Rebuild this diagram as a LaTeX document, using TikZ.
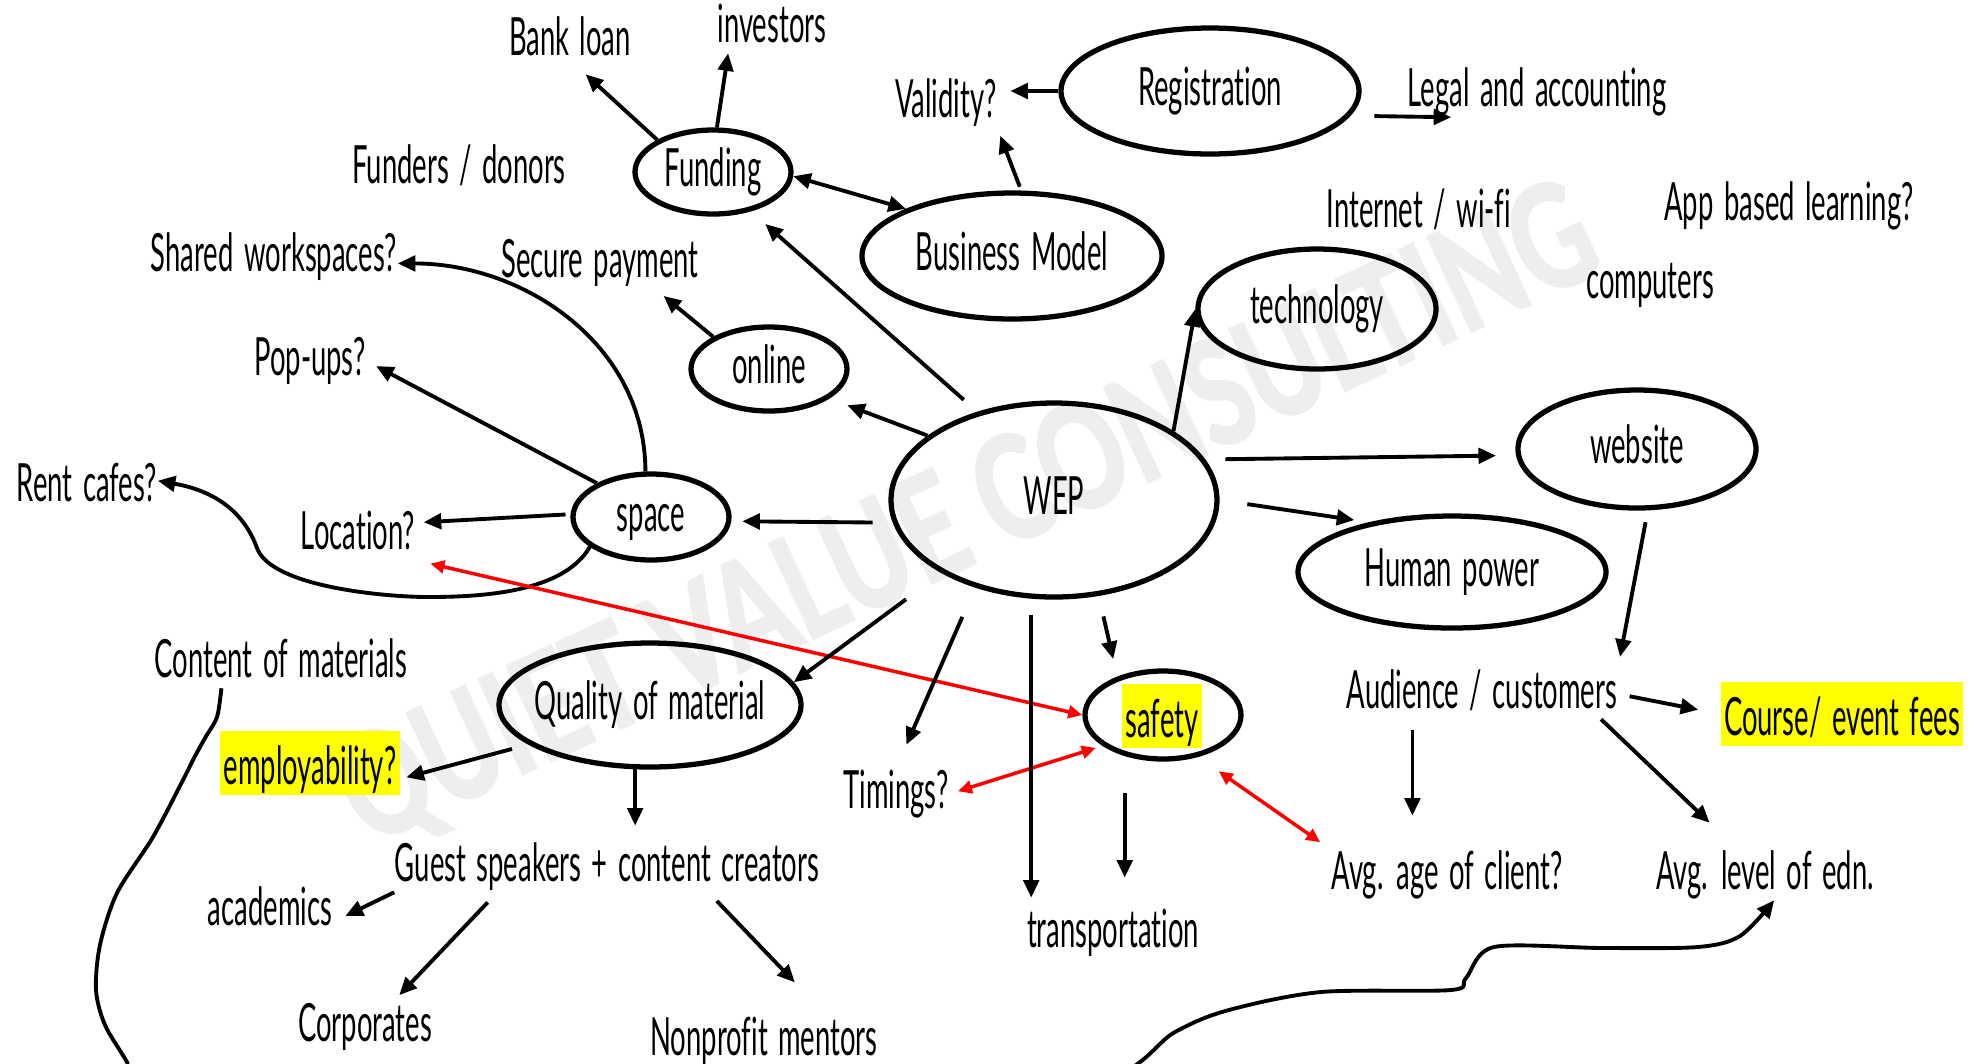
\documentclass[tikz,border=0pt]{standalone}
\usepackage{fontspec}
\setmainfont{Lato}[FakeStretch=0.52,WordSpace=1.5,Ligatures=NoCommon]
\newfontfamily\wmfont{Lato}[FakeStretch=0.73,BoldFeatures={FakeBold=2}]
\usetikzlibrary{shapes.geometric,arrows.meta}
\definecolor{hlyellow}{RGB}{255,255,0}
\definecolor{wmgray}{RGB}{238,238,238}

\begin{document}
\begin{tikzpicture}[x=0.1mm,y=0.1mm]
\tikzstyle{every node}+=[inner sep=0pt,font=\fontsize{15pt}{18pt}\selectfont]
\tikzstyle{txt}=[anchor=base,text height=11pt,text depth=3pt]
\tikzstyle{bub}=[draw,ellipse,line width=1.5pt,inner xsep=-4pt,text height=11pt,text depth=3pt]
\tikzstyle{hl}=[anchor=base,fill=hlyellow,inner xsep=1pt,inner ysep=1pt,text height=14pt,text depth=2pt]
\tikzstyle{arr}=[line width=1.1pt,-{Triangle[length=5pt,width=4.4pt]}]
\tikzstyle{dblarr}=[line width=1.1pt,{Triangle[length=5pt,width=4.4pt]}-{Triangle[length=5pt,width=4.4pt]}]
\tikzstyle{redarr}=[red,line width=1pt,{Triangle[length=4pt,width=3.6pt]}-{Triangle[length=4pt,width=3.6pt]}]
\tikzstyle{wm}=[anchor=center,rotate=25,text=wmgray,font=\wmfont\bfseries\fontsize{41pt}{44pt}\selectfont]
\path[use as bounding box] (0,0) rectangle (1974,-1063);
\clip (0,0) rectangle (1974,-1063);
\fill[white] (0,0) rectangle (1974,-1063);
\node[wm] (mark) at (969,-519) {QUIET VALUE CONSULTING};

\node[bub,minimum width=15.6mm,minimum height=8.4mm] (funding) at (713,-172) {Funding};
\node[bub,minimum width=29.8mm,minimum height=12.6mm] (reg) at (1210,-91) {Registration};
\node[bub,minimum width=30mm,minimum height=12.6mm] (bm) at (1012,-256) {Business Model};
\node[bub,minimum width=23.8mm,minimum height=12mm] (tech) at (1317,-309) {technology};
\node[bub,minimum width=15.6mm,minimum height=8.4mm] (online) at (769,-369) {online};
\node[bub,minimum width=32.6mm,minimum height=19.4mm] (wep) at (1054,-500) {WEP};
\node[bub,minimum width=23.8mm,minimum height=11.8mm] (web) at (1637,-449) {website};
\node[bub,minimum width=15.6mm,minimum height=8.6mm] (space) at (651,-517) {space};
\node[bub,minimum width=30.8mm,minimum height=11.2mm] (human) at (1452,-572) {Human power};
\node[bub,minimum width=30.2mm,minimum height=12.4mm,inner xsep=-9pt] (quality) at (650,-705) {Quality of material};
\node[bub,minimum width=15.6mm,minimum height=8.8mm] (safety) at (1163,-715) {};
\node[hl] (safetytxt) at (1162,-737) {safety};

\node[txt] (bank) at (570,-55) {Bank loan};
\node[txt] (inv) at (772,-42) {investors};
\node[txt] (valid) at (946,-117) {Validity?};
\node[txt] (legal) at (1537,-106) {Legal and accounting};
\node[txt] (funders) at (459,-183) {Funders / donors};
\node[txt] (internet) at (1419,-227) {Internet / wi-fi};
\node[txt] (app) at (1789,-220) {App based learning?};
\node[txt] (shared) at (274,-271) {Shared workspaces?};
\node[txt] (secure) at (600,-277) {Secure payment};
\node[txt] (comp) at (1650,-298) {computers};
\node[txt] (pop) at (310,-375) {Pop-ups?};
\node[txt] (rent) at (87,-501) {Rent cafes?};
\node[txt] (loc) at (358,-549) {Location?};
\node[txt] (content) at (281,-677) {Content of materials};
\node[hl] (employ) at (310,-784) {employability?};
\node[txt] (timings) at (896,-808) {Timings?};
\node[txt] (guest) at (607,-881) {Guest speakers + content creators};
\node[txt] (acad) at (270,-925) {academics};
\node[txt] (transp) at (1113,-947) {transportation};
\node[txt] (corp) at (365,-1041) {Corporates};
\node[txt] (nonprofit) at (764,-1055) {Nonprofit mentors};
\node[txt] (aud) at (1482,-708) {Audience / customers};
\node[hl] (course) at (1842,-735) {Course/ event fees};
\node[txt] (age) at (1447,-889) {Avg. age of client?};
\node[txt] (level) at (1765,-889) {Avg. level of edn.};

\draw[arr,shorten >=1.2mm] (funding.150) -- (bank.-75);
\draw[arr] (funding.85) -- (inv.-150);
\draw[dblarr] (funding.-3) -- (bm.156);
\draw[arr,shorten <=0.4mm,shorten >=0.8mm] (bm.82) -- (valid.south east);
\draw[arr,shorten >=1.3mm] (reg.west) -- (reg.west -| valid.east);
\draw[arr,shorten <=2.4mm,shorten >=0.3mm] (reg.-10) -- (legal.-163);
\draw[arr,shorten <=1.8mm,shorten >=1.9mm] (wep.131) -- (funding.-46);
\draw[arr,shorten >=1.2mm] (online.150) -- (secure.-25);
\draw[arr,shorten >=1.9mm] (wep.153) -- (online.-26);
\draw[arr] (wep.30) -- (tech.west);
\draw[arr,shorten <=2mm,shorten >=2mm] (wep.15) -- (web.-177);
\draw[arr,shorten <=2.8mm,shorten >=1.5mm] (wep.0) -- (human.149);
\draw[arr,shorten <=2mm,shorten >=1.1mm] (wep.-172) -- (space.-3);
\draw[arr,shorten <=0.5mm,shorten >=0.8mm] (space.178) -- (loc.12);
\draw[arr,shorten >=1.1mm] (space.148) -- (pop.east);
\draw[arr] (space.97) to[out=90,in=0] (shared.-3);
\draw[arr] (space.-154) to[out=-120,in=0,looseness=0.8] (428,-597) to[out=180,in=-70,looseness=0.6] (257,-548) to[out=110,in=-10] (rent.5);

\draw[redarr,shorten <=1.5mm] (loc.south east) -- (safety.west);
\draw[redarr,shorten <=0.7mm,shorten >=0.9mm] (safety.-153) -- (timings.east);
\draw[redarr,shorten <=2.5mm,shorten >=1.3mm] (safety.-50) -- (age.north west);

\draw[arr,shorten <=4.4mm] (wep.-147) -- (quality.9);
\draw[arr,shorten <=3.2mm,shorten >=2.6mm] (wep.-132) -- (timings.north);
\draw[arr,shorten <=1.6mm,shorten >=1mm] (wep.-103) -- (wep.-103 |- transp.north);
\draw[arr,shorten <=2.1mm,shorten >=1.8mm] (wep.-65) -- (safety.140);
\draw[arr,shorten <=3.7mm,shorten >=3mm] (safety.-133) -- (safety.-133 |- transp.north);
\draw[arr,shorten <=1.7mm,shorten >=0.6mm] (quality.-162) -- (employ.-10);
\draw[arr,shorten >=1.6mm] (quality.-103) -- (quality.-103 |- guest.north);
\draw[arr,shorten >=1.4mm] (guest.south west) -- (acad.-10);
\draw[arr,shorten <=1.4mm,shorten >=0.9mm] (guest.-167) -- (corp.42);
\draw[arr,shorten <=1.2mm,shorten >=4.6mm] (guest.-14) -- (nonprofit.22);
\draw[arr,shorten <=1.2mm,shorten >=1.2mm] (web.-80) -- (aud.north east);
\draw[arr,shorten <=1.2mm,shorten >=2.2mm] (aud.east) -- (course.west);
\draw[arr,shorten <=1.1mm,shorten >=3.4mm] (aud.-160) -- (aud.-160 |- age.north);
\draw[arr,shorten >=3.9mm] (aud.-12) -- (level.137);
\draw[arr] plot[smooth,tension=0.5] coordinates {(content.-157) (217,-717) (205,-738) (194,-758) (183,-780) (153,-837) (117,-893) (100,-945) (96,-990) (105,-1025) (127,-1062) (160,-1120) (700,-1160) (1080,-1090) (1175,-1032) (1229,-1010) (1321,-992) (1451,-990) (1466,-978) (1494,-947) (1603,-948) (1698,-947) (1740,-936) (level.-70)};
\end{tikzpicture}
\end{document}
